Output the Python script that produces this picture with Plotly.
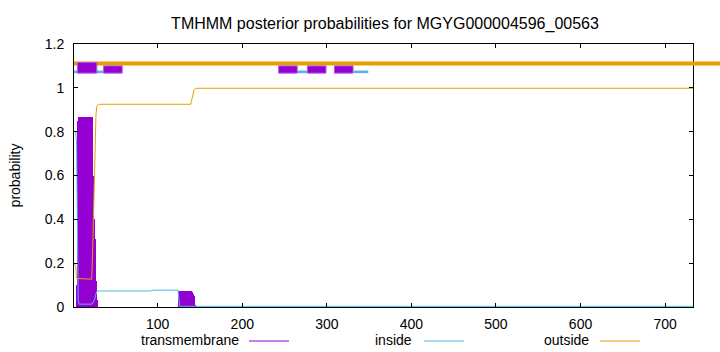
import plotly.graph_objects as go

# ---- data ----
seq_len = 733

# transmembrane posterior (drawn as impulses) : residues with visible probability
tm_x = [4, 5, 6, 7, 8, 9, 10, 11, 12, 13, 14, 15, 16, 17, 18, 19, 20, 21, 22, 23, 24, 25, 26, 27, 28,
        125, 126, 127, 128, 129, 130, 131, 132, 133, 134, 135, 136, 137, 138, 139, 140, 141, 142, 143, 144]
tm_y = [0.10, 0.78, 0.85, 0.866, 0.866, 0.866, 0.866, 0.866, 0.866, 0.866, 0.866, 0.866, 0.866, 0.866,
        0.866, 0.866, 0.866, 0.866, 0.866, 0.85, 0.60, 0.40, 0.31, 0.12, 0.03,
        0.075, 0.075, 0.075, 0.075, 0.075, 0.075, 0.075, 0.075, 0.075, 0.075, 0.075, 0.075, 0.075,
        0.075, 0.075, 0.075, 0.07, 0.06, 0.05, 0.01]

# inside posterior
inside_x = [1, 3, 4, 5, 6, 7, 22, 25, 28, 90, 96, 124, 126, 733]
inside_y = [0.80, 0.80, 0.75, 0.30, 0.03, 0.013, 0.013, 0.03, 0.073, 0.073, 0.077, 0.077, 0.003, 0.003]

# outside posterior
outside_x = [1, 3, 4, 22, 23, 24, 25, 26, 27, 28, 30, 139, 141, 143, 145, 733]
outside_y = [0.195, 0.19, 0.13, 0.127, 0.25, 0.42, 0.6, 0.78, 0.88, 0.915, 0.925, 0.925, 0.96, 0.99, 0.998, 0.998]

# predicted topology (top bar)
tm_seg_start = [5, 36, 243, 277, 309]
tm_seg_end = [28, 58, 265, 299, 331]
tm_seg_top = [1.116, 1.10, 1.10, 1.10, 1.10]
in_seg_start = [0, 28, 265, 332]
in_seg_end = [5, 36, 277, 349]

title = "TMHMM posterior probabilities for MGYG000004596_00563"
x_ticks = [100, 200, 300, 400, 500, 600, 700]
y_ticks = [0, 0.2, 0.4, 0.6, 0.8, 1.0, 1.2]
y_tick_text = ["0", "0.2", "0.4", "0.6", "0.8", "1", "1.2"]

# ---- style ----
C_TM = "#9400D3"
C_IN = "#56B4E9"
C_OUT = "#E69F00"
FONT = "Liberation Sans"
Y_MAX = 1.2
OUT_LEVEL = 1.111
IN_LO, IN_HI = 1.067, 1.079
TM_LO = 1.067

fig = go.Figure()

fig.add_trace(go.Bar(x=tm_x, y=tm_y, width=0.8, marker=dict(color=C_TM, line=dict(width=0)),
                     name="transmembrane", showlegend=False))
fig.add_trace(go.Scatter(x=inside_x, y=inside_y, mode="lines", line=dict(color=C_IN, width=1),
                         name="inside", showlegend=False))
fig.add_trace(go.Scatter(x=outside_x, y=outside_y, mode="lines", line=dict(color=C_OUT, width=1),
                         name="outside", showlegend=False))

shapes = []
# outside bar: runs across the whole plot and past the right border
shapes.append(dict(type="line", xref="paper", yref="paper", x0=0, x1=1.2,
                   y0=OUT_LEVEL / Y_MAX, y1=OUT_LEVEL / Y_MAX,
                   line=dict(color=C_OUT, width=4), layer="above"))
for s, e in zip(in_seg_start, in_seg_end):
    shapes.append(dict(type="rect", xref="x", yref="y", x0=s, x1=e, y0=IN_LO, y1=IN_HI,
                       fillcolor=C_IN, line=dict(width=0), layer="above"))
for s, e, t in zip(tm_seg_start, tm_seg_end, tm_seg_top):
    shapes.append(dict(type="rect", xref="x", yref="y", x0=s, x1=e, y0=TM_LO, y1=t,
                       fillcolor=C_TM, line=dict(color="#B45AE0", width=1), layer="above"))

# legend (gnuplot style: text then sample line)
legend_items = [("transmembrane", C_TM, 241, 249, 289),
                ("inside", C_IN, 414, 424, 464),
                ("outside", C_OUT, 591, 600, 640)]
annotations = []
W, H = 720, 352
L, R, T, B = 74, 27, 44, 45
pw, ph = W - L - R, H - T - B
def px_x(p):
    return (p - L) / pw
def px_y(p):
    return (H - B - p) / ph
for name, col, tx, l0, l1 in legend_items:
    annotations.append(dict(text=name, xref="paper", yref="paper", x=px_x(tx), y=px_y(340),
                            xanchor="right", yanchor="middle", showarrow=False,
                            font=dict(family=FONT, size=14, color="#000")))
    shapes.append(dict(type="line", xref="paper", yref="paper", x0=px_x(l0), x1=px_x(l1),
                       y0=px_y(341), y1=px_y(341), line=dict(color=col, width=1)))

fig.update_layout(
    width=W, height=H,
    margin=dict(l=L, r=R, t=T, b=B, pad=0),
    paper_bgcolor="white", plot_bgcolor="white",
    title=dict(text=title, x=385 / W, xanchor="center", y=1 - 23 / H, yanchor="middle",
               font=dict(family=FONT, size=16, color="#000")),
    font=dict(family=FONT, size=14, color="#000"),
    shapes=shapes, annotations=annotations,
    showlegend=False, bargap=0,
    xaxis=dict(range=[1, seq_len], tickvals=x_ticks, ticks="inside", ticklen=4, tickcolor="#000",
               showline=True, linecolor="#000", linewidth=1, mirror="ticks", showgrid=False,
               zeroline=False, ticklabelstandoff=4),
    yaxis=dict(range=[0, Y_MAX], tickvals=y_ticks, ticktext=y_tick_text,
               ticks="inside", ticklen=4, tickcolor="#000",
               showline=True, linecolor="#000", linewidth=1, mirror="ticks", showgrid=False,
               zeroline=False, ticklabelstandoff=6,
               title=dict(text="probability", standoff=20, font=dict(family=FONT, size=14))),
)

fig.write_html("out.html")
